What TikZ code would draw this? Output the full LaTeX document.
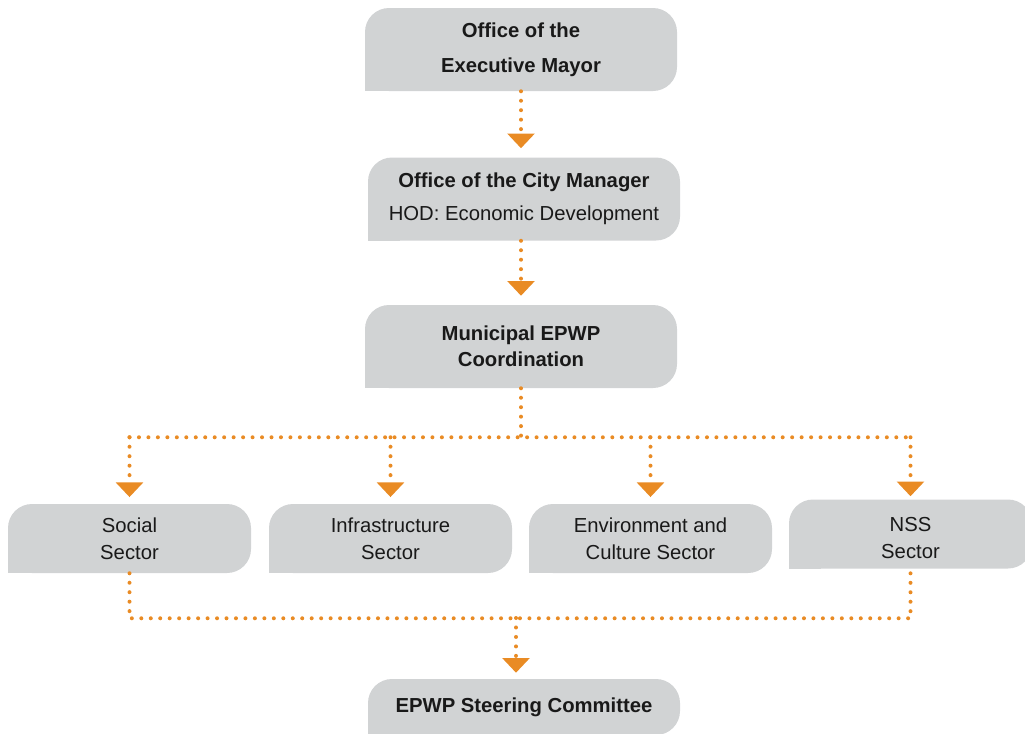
\documentclass[tikz,border=0pt]{standalone}
\usepackage{fontspec}
\setmainfont{Liberation Sans}
\usetikzlibrary{arrows.meta, positioning}
\definecolor{EPWP_Orange}{HTML}{E98B24}
\definecolor{EPWP_Grey}{HTML}{D1D3D4}

\tikzset{
    orgbox/.style={inner sep=0pt, align=center, text=black!90,
        minimum width=234pt, minimum height=62.25pt,
        font=\fontsize{15.2}{19.5}\selectfont\bfseries,
        path picture={
            \fill[EPWP_Grey, rounded corners=18pt] (path picture bounding box.south west) rectangle (path picture bounding box.north east);
            \fill[EPWP_Grey] (path picture bounding box.south west) rectangle ++(24pt,24pt);
        }},
    sectorbox/.style={orgbox, minimum width=182.25pt, minimum height=51.75pt,
        font=\fontsize{15.2}{20.25}\selectfont},
    link/.style={EPWP_Orange, line width=3pt, line cap=round, dash pattern=on 0pt off 7.1pt},
    flow/.style={link, -{Triangle[width=20pt, length=11pt]}, shorten >=#1},
    flow/.default=5pt
}

\begin{document}
\begin{tikzpicture}[x=0.75pt, y=-0.75pt]
    \useasboundingbox (0,0) rectangle (1025,733);
    \clip (0,0) rectangle (1025,733);

    % top of the chain
    \node[orgbox, font=\fontsize{15.2}{26.25}\selectfont\bfseries] (mayor) at (521,49.5) {Office of the\\Executive Mayor};
    \node[orgbox, font=\fontsize{15.2}{24.75}\selectfont] (manager) at (524,199) {\textbf{Office of the City Manager}\\HOD: Economic Development};
    \node[orgbox] (coord) at (521,346.5) {Municipal EPWP\\Coordination};

    % sectors
    \node[sectorbox] (social) at (129.5,538.5) {Social\\Sector};
    \node[sectorbox] (infra) at (390.5,538.5) {Infrastructure\\Sector};
    \node[sectorbox] (env) at (650.5,538.5) {Environment and\\Culture Sector};
    \node[sectorbox] (nss) at (910.5,534) {\rule{0pt}{17pt}NSS\\Sector};

    % committee
    \node[orgbox, minimum height=42pt] (steer) at (524,707) {EPWP Steering Committee};

    % connectors
    \draw[flow=6.75pt] (mayor.south) -- (mayor.south |- manager.north);
    \draw[flow=6.75pt] (coord.north |- manager.south) -- (coord.north);
    \draw[link] (coord.south) -- ++(0,49) coordinate (split);
    \draw[link] (social.north |- split) -- (nss.north |- split);
    \foreach \s/\gap in {social/5pt, infra/5pt, env/5pt, nss/2.25pt}
        \draw[flow=\gap] (\s.north |- split) -- (\s.north);

    \draw[link] (social.south) -- ++(0,45) coordinate (join) -- (nss.south |- join) -- (nss.south);
    \coordinate (merge) at (516,618);
    \draw[flow=4.5pt] (merge) -- (merge |- steer.north);

\end{tikzpicture}
\end{document}
